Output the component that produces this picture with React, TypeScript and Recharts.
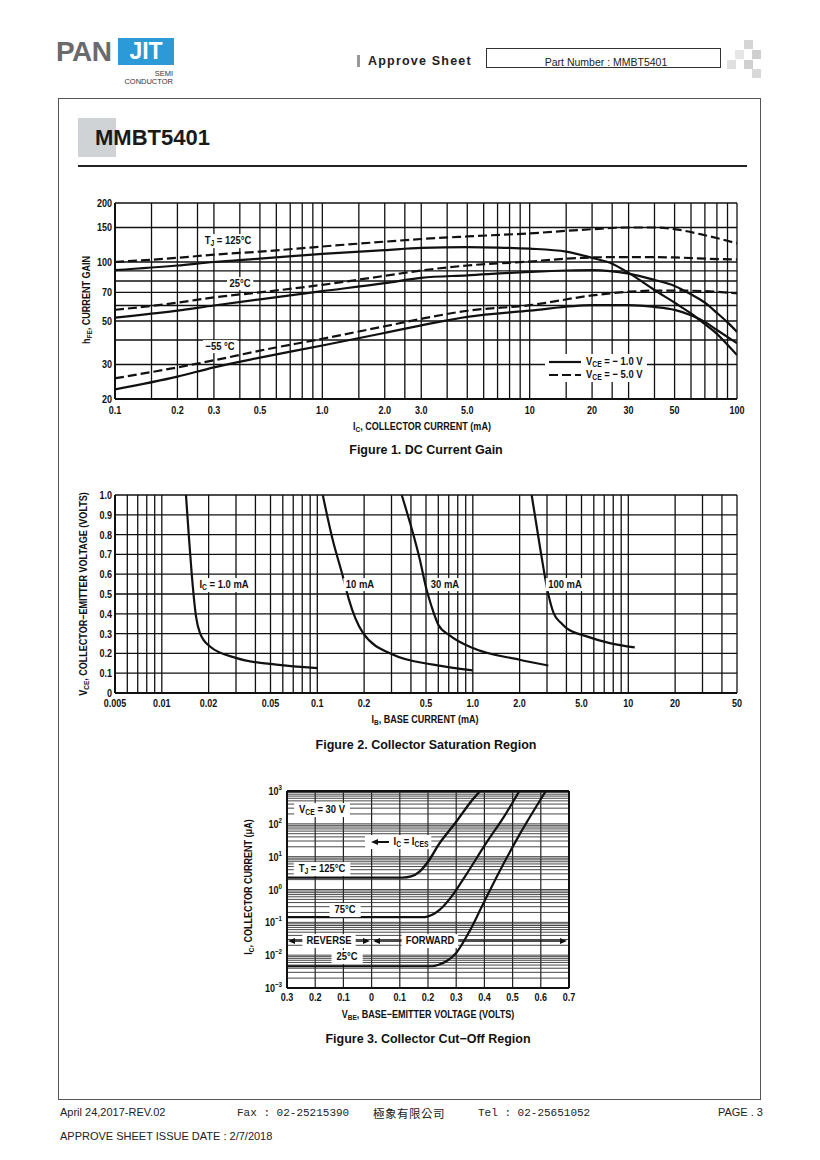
import React from 'react';
import { LineChart, Line, XAxis, YAxis, ReferenceLine } from 'recharts';

const SANS = "'Liberation Sans', Arial, Helvetica, sans-serif";
const INK = '#111';
const SX = 0.82; // horizontal compression to imitate a condensed bold face

// ================= Figure 1: DC Current Gain =================
const fig1XTicks = [0.1, 0.2, 0.3, 0.5, 1, 2, 3, 5, 10, 20, 30, 50, 100];
const fig1XTickLabels = ['0.1', '0.2', '0.3', '0.5', '1.0', '2.0', '3.0', '5.0', '10', '20', '30', '50', '100'];
const fig1YTicks = [20, 30, 50, 70, 100, 150, 200];
const fig1YTickLabels = ['20', '30', '50', '70', '100', '150', '200'];
const fig1XGrid = [0.1, 0.15, 0.2, 0.25, 0.3, 0.4, 0.5, 0.6, 0.7, 0.8, 0.9, 1, 1.5, 2, 2.5, 3, 4, 5, 6, 7, 8, 9, 10, 15, 20, 25, 30, 40, 50, 60, 70, 80, 90, 100];
const fig1YGrid = [20, 30, 40, 50, 60, 70, 80, 90, 100, 150, 200];

// [IC (mA), hFE]
const hfe125Vce1 = [[0.1, 91], [0.2, 96], [0.3, 100], [0.5, 104], [1, 110], [2, 115], [3, 118], [5, 119], [7, 118.5], [10, 117], [15, 113], [20, 105], [25, 98], [30, 88], [40, 72], [50, 62], [60, 54.6], [70, 48.2], [80, 43], [90, 37.8], [100, 33.5]];
const hfe125Vce5 = [[0.1, 100], [0.2, 105], [0.3, 109], [0.5, 113], [1, 120], [2, 127], [3, 131], [5, 135], [10, 140], [20, 147], [30, 150], [40, 150], [50, 147], [70, 137], [100, 124.5]];
const hfe25Vce1 = [[0.1, 52], [0.2, 56.5], [0.3, 60], [0.5, 64.5], [1, 71], [2, 78], [3, 83], [5, 85.5], [10, 89], [15, 90.5], [20, 91], [30, 87.3], [40, 81], [50, 75.5], [60, 68.4], [70, 62], [80, 55], [90, 49.2], [100, 44]];
const hfe25Vce5 = [[0.1, 57], [0.2, 62], [0.3, 66], [0.5, 70], [1, 76.5], [2, 85], [3, 90.5], [5, 96], [10, 100.5], [15, 104], [20, 105.5], [30, 106], [50, 105.5], [70, 104], [100, 103]];
const hfeM55Vce1 = [[0.1, 22.4], [0.2, 26], [0.3, 29], [0.5, 32.5], [1, 37.5], [2, 43.5], [3, 47.5], [5, 52.5], [10, 56.5], [20, 60.2], [30, 60.3], [40, 59], [50, 57], [60, 53.5], [70, 49.5], [80, 45], [100, 38.5]];
const hfeM55Vce5 = [[0.1, 25.5], [0.2, 29], [0.3, 31.5], [0.5, 35.3], [1, 40.6], [2, 47], [3, 51.3], [5, 56.4], [10, 60.2], [20, 67.5], [30, 70.5], [40, 71.5], [50, 71.5], [70, 71], [100, 69.2]];

// ================= Figure 2: Collector Saturation Region =================
const fig2XTicks = [0.005, 0.01, 0.02, 0.05, 0.1, 0.2, 0.5, 1, 2, 5, 10, 20, 50];
const fig2XTickLabels = ['0.005', '0.01', '0.02', '0.05', '0.1', '0.2', '0.5', '1.0', '2.0', '5.0', '10', '20', '50'];
const fig2YTicks = [0, 0.1, 0.2, 0.3, 0.4, 0.5, 0.6, 0.7, 0.8, 0.9, 1.0];
const fig2YTickLabels = ['0', '0.1', '0.2', '0.3', '0.4', '0.5', '0.6', '0.7', '0.8', '0.9', '1.0'];
const fig2XGrid = [0.005, 0.006, 0.007, 0.008, 0.009, 0.01, 0.02, 0.03, 0.04, 0.05, 0.06, 0.07, 0.08, 0.09, 0.1, 0.2, 0.3, 0.4, 0.5, 0.6, 0.7, 0.8, 0.9, 1, 2, 3, 4, 5, 6, 7, 8, 9, 10, 20, 30, 40, 50];

// [IB (mA), VCE (V)]
const vceIc1 = [[0.0143, 1.0], [0.0149, 0.8], [0.01556, 0.605], [0.0166, 0.386], [0.0176, 0.3025], [0.0204, 0.235], [0.0303, 0.176], [0.0545, 0.143], [0.1, 0.126]];
const vceIc10 = [[0.1084, 1.0], [0.125, 0.78], [0.147, 0.58], [0.1587, 0.479], [0.197, 0.3025], [0.308, 0.193], [0.557, 0.143], [1.0, 0.114]];
const vceIc30 = [[0.349, 1.0], [0.457, 0.672], [0.505, 0.52], [0.543, 0.437], [0.6, 0.345], [0.713, 0.29], [1.0, 0.227], [2.0, 0.168], [3.06, 0.139]];
const vceIc100 = [[2.39, 1.0], [2.7, 0.74], [3.05, 0.504], [3.31, 0.403], [3.7, 0.353], [3.97, 0.33], [5.4, 0.286], [7.6, 0.252], [11.0, 0.23]];

// ================= Figure 3: Collector Cut-Off Region =================
const fig3XTicks = [-0.3, -0.2, -0.1, 0, 0.1, 0.2, 0.3, 0.4, 0.5, 0.6, 0.7];
const fig3XTickLabels = ['0.3', '0.2', '0.1', '0', '0.1', '0.2', '0.3', '0.4', '0.5', '0.6', '0.7'];
const fig3YTicks = [0.001, 0.01, 0.1, 1, 10, 100, 1000];
const fig3YTickExps = ['\u22123', '\u22122', '\u22121', '0', '1', '2', '3'];
const fig3YDecades = [0.001, 0.01, 0.1, 1, 10, 100];
const fig3Mantissas = [1, 2, 3, 4, 5, 6, 7, 8, 9];
const fig3YGrid = [...fig3YDecades.flatMap((d) => fig3Mantissas.map((m) => d * m)), 1000];

// [VBE (V, reverse negative), IC (uA)]
const icTj125 = [[-0.3, 2.3], [0.11, 2.3], [0.14, 2.5], [0.17, 3.5], [0.2, 7], [0.24, 25], [0.3, 115], [0.35, 450], [0.385, 1000]];
const icTj75 = [[-0.3, 0.145], [0.19, 0.145], [0.215, 0.17], [0.241, 0.24], [0.288, 0.69], [0.335, 2.8], [0.406, 25.7], [0.477, 209], [0.524, 1000]];
const icTj25 = [[-0.3, 0.0046], [0.215, 0.0046], [0.24, 0.0052], [0.265, 0.0065], [0.3, 0.0117], [0.347, 0.053], [0.394, 0.343], [0.453, 3.5], [0.524, 46], [0.618, 1000]];

const pts = (arr: number[][]) => arr.map(([x, y]) => ({ x, y }));

const lineBase = { type: 'monotone' as const, dataKey: 'y', stroke: INK, strokeWidth: 2.2, dot: false, activeDot: false, isAnimationActive: false };
const dashed = '9 4';

const makeTick = (ticks: number[], labels: string[], axis: 'x' | 'y') => (props: any) => {
  const { x, y, payload } = props;
  const label = labels[ticks.indexOf(payload.value)];
  return (
    <g transform={`translate(${x},${y}) scale(${SX},1)`}>
      <text x={0} y={0} dy={axis === 'x' ? '0.71em' : '0.355em'} textAnchor={axis === 'x' ? 'middle' : 'end'}
        fill={INK} fontSize={11} fontWeight={700} fontFamily={SANS}>{label}</text>
    </g>
  );
};

const Fig3YTick = (props: any) => {
  const { x, y, payload } = props;
  const e = fig3YTickExps[fig3YTicks.indexOf(payload.value)];
  return (
    <g transform={`translate(${x},${y}) scale(${SX},1)`}>
      <text x={0} y={0} dy={4} textAnchor="end" fill={INK} fontSize={11} fontWeight={700} fontFamily={SANS}>
        <tspan>10</tspan>
        <tspan dy={-5} fontSize={7.5}>{e}</tspan>
      </text>
    </g>
  );
};

const Sub = ({ children }: { children: React.ReactNode }) => (
  <span style={{ fontSize: '0.72em', position: 'relative', top: '0.28em' }}>{children}</span>
);

type TP = {
  x: number; y: number; children: React.ReactNode; size?: number; weight?: number; family?: string;
  bg?: string; rot?: number; anchor?: 'left' | 'center' | 'right'; color?: string; ls?: number; pad?: string; sx?: number;
};
const T = ({ x, y, children, size = 11, weight = 700, family = SANS, bg, rot, anchor = 'center', color = INK, ls, pad = '0 3px', sx = SX }: TP) => {
  const tx = anchor === 'center' ? '-50%' : anchor === 'right' ? '-100%' : '0';
  const ox = anchor === 'center' ? '50%' : anchor === 'right' ? '100%' : '0%';
  return (
    <div
      style={{
        position: 'absolute', left: x, top: y,
        transform: `translate(${tx}, -50%)${rot ? ` rotate(${rot}deg)` : ''}${sx !== 1 ? ` scaleX(${sx})` : ''}`,
        transformOrigin: `${ox} 50%`,
        fontSize: size, fontWeight: weight, fontFamily: family, background: bg, color,
        whiteSpace: 'nowrap', lineHeight: 1.2, padding: bg ? pad : 0, letterSpacing: ls, zIndex: 2,
      }}
    >
      {children}
    </div>
  );
};

function Figure1() {
  return (
    <div style={{ position: 'absolute', left: 60, top: 190 }}>
      <LineChart width={700} height={240} margin={{ top: 13, right: 23, bottom: 6, left: 0 }}>
        {fig1XGrid.map((v) => (
          <ReferenceLine key={`gx${v}`} x={v} stroke={INK} strokeWidth={1.3} ifOverflow="visible" />
        ))}
        {fig1YGrid.map((v) => (
          <ReferenceLine key={`gy${v}`} y={v} stroke={INK} strokeWidth={1.3} ifOverflow="visible" />
        ))}
        <XAxis type="number" dataKey="x" scale="log" domain={[0.1, 100]} ticks={fig1XTicks} interval={0}
          tick={makeTick(fig1XTicks, fig1XTickLabels, 'x')}
          tickLine={false} tickSize={0} tickMargin={7} height={25} axisLine={{ stroke: INK, strokeWidth: 2 }} allowDataOverflow />
        <YAxis type="number" scale="log" domain={[20, 200]} ticks={fig1YTicks} interval={0}
          tick={makeTick(fig1YTicks, fig1YTickLabels, 'y')}
          tickLine={false} tickSize={0} tickMargin={3} width={55} axisLine={{ stroke: INK, strokeWidth: 2 }} allowDataOverflow />
        <Line data={pts(hfe125Vce1)} {...lineBase} />
        <Line data={pts(hfe125Vce5)} {...lineBase} strokeDasharray={dashed} />
        <Line data={pts(hfe25Vce1)} {...lineBase} />
        <Line data={pts(hfe25Vce5)} {...lineBase} strokeDasharray={dashed} />
        <Line data={pts(hfeM55Vce1)} {...lineBase} />
        <Line data={pts(hfeM55Vce5)} {...lineBase} strokeDasharray={dashed} />
      </LineChart>
    </div>
  );
}

function Figure2() {
  return (
    <div style={{ position: 'absolute', left: 60, top: 485 }}>
      <LineChart width={700} height={230} margin={{ top: 10, right: 23, bottom: 2, left: 0 }}>
        {fig2XGrid.map((v) => (
          <ReferenceLine key={`gx${v}`} x={v} stroke={INK} strokeWidth={1.3} ifOverflow="visible" />
        ))}
        {fig2YTicks.map((v) => (
          <ReferenceLine key={`gy${v}`} y={v} stroke={INK} strokeWidth={1.3} ifOverflow="visible" />
        ))}
        <XAxis type="number" dataKey="x" scale="log" domain={[0.005, 50]} ticks={fig2XTicks} interval={0}
          tick={makeTick(fig2XTicks, fig2XTickLabels, 'x')}
          tickLine={false} tickSize={0} tickMargin={6} height={20} axisLine={{ stroke: INK, strokeWidth: 2 }} allowDataOverflow />
        <YAxis type="number" domain={[0, 1]} ticks={fig2YTicks} interval={0}
          tick={makeTick(fig2YTicks, fig2YTickLabels, 'y')}
          tickLine={false} tickSize={0} tickMargin={3} width={55} axisLine={{ stroke: INK, strokeWidth: 2 }} allowDataOverflow />
        <Line data={pts(vceIc1)} {...lineBase} />
        <Line data={pts(vceIc10)} {...lineBase} />
        <Line data={pts(vceIc30)} {...lineBase} />
        <Line data={pts(vceIc100)} {...lineBase} />
      </LineChart>
    </div>
  );
}

function Figure3() {
  return (
    <div style={{ position: 'absolute', left: 200, top: 780 }}>
      <LineChart width={380} height={230} margin={{ top: 11, right: 11, bottom: 2, left: 0 }}>
        {fig3XTicks.map((v) => (
          <ReferenceLine key={`gx${v}`} x={v} stroke="#222" strokeWidth={1.2} ifOverflow="visible" />
        ))}
        {fig3YGrid.map((v) => (
          <ReferenceLine key={`gy${v}`} y={v} stroke="#333" strokeWidth={0.9} ifOverflow="visible" />
        ))}
        <XAxis type="number" dataKey="x" domain={[-0.3, 0.7]} ticks={fig3XTicks} interval={0}
          tick={makeTick(fig3XTicks, fig3XTickLabels, 'x')}
          tickLine={false} tickSize={0} tickMargin={5} height={20} axisLine={{ stroke: INK, strokeWidth: 2 }} allowDataOverflow />
        <YAxis type="number" scale="log" domain={[0.001, 1000]} ticks={fig3YTicks} interval={0}
          tick={<Fig3YTick />} tickLine={false} tickSize={0} tickMargin={5} width={87}
          axisLine={{ stroke: INK, strokeWidth: 2 }} allowDataOverflow />
        <ReferenceLine x={0.7} stroke={INK} strokeWidth={2} ifOverflow="visible" />
        <ReferenceLine y={1000} stroke={INK} strokeWidth={2} ifOverflow="visible" />
        <Line data={pts(icTj125)} {...lineBase} strokeWidth={2.4} />
        <Line data={pts(icTj75)} {...lineBase} />
        <Line data={pts(icTj25)} {...lineBase} />
      </LineChart>
    </div>
  );
}

const Arrow = ({ tip, dir, y }: { tip: number; dir: 1 | -1; y: number }) => (
  <polygon points={`${tip},${y} ${tip - dir * 7},${y - 3} ${tip - dir * 7},${y + 3}`} fill={INK} />
);

export default function App() {
  const sq = (l: number, t: number, c: string) => (
    <div style={{ position: 'absolute', left: l, top: t, width: 9, height: 9, background: c }} />
  );
  return (
    <div style={{ position: 'absolute', left: 0, top: 0, width: 820, height: 1160, background: '#fff', overflow: 'hidden', fontFamily: SANS }}>
      {/* ===== Header ===== */}
      <T x={56} y={52} anchor="left" size={28} weight={700} color="#6a6a6a" ls={-0.5} sx={1}>PAN</T>
      <div style={{ position: 'absolute', left: 118, top: 38, width: 56, height: 27, background: '#2b9ad6' }} />
      <T x={146} y={52} size={23} weight={700} color="#fff" sx={1}>JIT</T>
      <T x={173} y={73} anchor="right" size={7.5} weight={400} color="#333" sx={1}>SEMI</T>
      <T x={173} y={81} anchor="right" size={7.5} weight={400} color="#333" sx={1}>CONDUCTOR</T>

      <div style={{ position: 'absolute', left: 357, top: 55, width: 3, height: 12, background: '#999' }} />
      <T x={368} y={61} anchor="left" size={12.5} weight={700} color="#222" ls={1.2} sx={1}>Approve Sheet</T>
      <div style={{ position: 'absolute', left: 486, top: 48, width: 235, height: 20, border: '1px solid #333', boxSizing: 'border-box' }} />
      <T x={606} y={62} size={10.5} weight={400} color="#222" sx={1}>Part Number : MMBT5401</T>
      {sq(744, 40, '#d5d5d5')}
      {sq(735, 50, '#e6e6e6')}
      {sq(752, 50, '#cfcfcf')}
      {sq(727, 60, '#e0e0e0')}
      {sq(744, 60, '#d0d0d0')}
      {sq(752, 69, '#d8d8d8')}

      {/* ===== Main frame ===== */}
      <div style={{ position: 'absolute', left: 58, top: 98, width: 703, height: 1002, border: '1.5px solid #555', boxSizing: 'border-box' }} />
      <div style={{ position: 'absolute', left: 78, top: 118, width: 38, height: 39, background: '#d0d3d6' }} />
      <T x={95} y={138} anchor="left" size={22} weight={700} color="#1a1a1a" sx={1}>MMBT5401</T>
      <div style={{ position: 'absolute', left: 78, top: 165, width: 669, height: 1.5, background: '#222' }} />

      {/* ===== Figure 1 ===== */}
      <Figure1 />
      <T x={87} y={300} rot={-90}>h<Sub>FE</Sub>, CURRENT GAIN</T>
      <T x={422} y={427}>I<Sub>C</Sub>, COLLECTOR CURRENT (mA)</T>
      <T x={228} y={241} bg="#fff" size={11.5}>T<Sub>J</Sub> = 125°C</T>
      <T x={240} y={283.5} bg="#fff" size={11.5}>25°C</T>
      <T x={220} y={346.5} bg="#fff" size={11.5}>−55 °C</T>
      <div style={{ position: 'absolute', left: 545, top: 354, width: 102, height: 28, background: '#fff', zIndex: 2 }}>
        <svg width={102} height={28} style={{ position: 'absolute', left: 0, top: 0 }}>
          <line x1={4} y1={8} x2={36} y2={8} stroke={INK} strokeWidth={2.2} />
          <line x1={4} y1={21} x2={36} y2={21} stroke={INK} strokeWidth={2.2} strokeDasharray={dashed} />
        </svg>
      </div>
      <T x={586} y={362} anchor="left" size={11.5}>V<Sub>CE</Sub> = − 1.0 V</T>
      <T x={586} y={375} anchor="left" size={11.5}>V<Sub>CE</Sub> = − 5.0 V</T>
      <T x={426} y={450} size={12.5} sx={1}>Figure 1. DC Current Gain</T>

      {/* ===== Figure 2 ===== */}
      <Figure2 />
      <T x={84} y={594} rot={-90}>V<Sub>CE</Sub>, COLLECTOR−EMITTER VOLTAGE (VOLTS)</T>
      <T x={425} y={720}>I<Sub>B</Sub>, BASE CURRENT (mA)</T>
      <T x={224} y={585} bg="#fff" size={11.5}>I<Sub>C</Sub> = 1.0 mA</T>
      <T x={360} y={584.5} bg="#fff" size={11.5}>10 mA</T>
      <T x={444.5} y={584.5} bg="#fff" size={11.5}>30 mA</T>
      <T x={565} y={584.5} bg="#fff" size={11.5}>100 mA</T>
      <T x={426} y={745} size={12.5} sx={1}>Figure 2. Collector Saturation Region</T>

      {/* ===== Figure 3 ===== */}
      <Figure3 />
      <T x={249} y={887} rot={-90}>I<Sub>C</Sub>, COLLECTOR CURRENT (μA)</T>
      <T x={428} y={1015}>V<Sub>BE</Sub>, BASE−EMITTER VOLTAGE (VOLTS)</T>
      <T x={322} y={810} bg="#fff" size={11.5} pad="0 6px">V<Sub>CE</Sub> = 30 V</T>
      <svg width={30} height={14} style={{ position: 'absolute', left: 365, top: 835, zIndex: 2 }}>
        <rect x={0} y={0} width={30} height={14} fill="#fff" />
        <line x1={9} y1={7} x2={24} y2={7} stroke={INK} strokeWidth={2} />
        <Arrow tip={6} dir={-1} y={7} />
      </svg>
      <T x={411} y={842} bg="#fff" size={11.5}>I<Sub>C</Sub> = I<Sub>CES</Sub></T>
      <T x={322} y={869} bg="#fff" size={11.5} pad="0 6px">T<Sub>J</Sub> = 125°C</T>
      <T x={345} y={910} bg="#fff" size={11.5} pad="0 6px">75°C</T>
      <svg width={295} height={14} style={{ position: 'absolute', left: 280, top: 934, zIndex: 2 }}>
        <line x1={12} y1={7} x2={86} y2={7} stroke={INK} strokeWidth={1.6} />
        <line x1={97} y1={7} x2={283} y2={7} stroke={INK} strokeWidth={1.6} />
        <Arrow tip={8} dir={-1} y={7} />
        <Arrow tip={90} dir={1} y={7} />
        <Arrow tip={93} dir={-1} y={7} />
        <Arrow tip={287} dir={1} y={7} />
      </svg>
      <T x={329} y={941} bg="#fff" size={11.5} pad="0 5px">REVERSE</T>
      <T x={430} y={941} bg="#fff" size={11.5} pad="0 5px">FORWARD</T>
      <T x={347} y={957} bg="#fff" size={11.5} pad="0 6px">25°C</T>
      <T x={428} y={1039} size={12.5} sx={1}>Figure 3. Collector Cut−Off Region</T>

      {/* ===== Footer ===== */}
      <T x={60} y={1113} anchor="left" size={11} weight={400} color="#222" sx={1}>April 24,2017-REV.02</T>
      <T x={237} y={1114} anchor="left" size={11} weight={400} family="'Liberation Mono', monospace" color="#222" sx={1}>Fax : 02-25215390</T>
      <T x={373} y={1114} anchor="left" size={11.5} weight={400} family="'Noto Sans CJK TC', sans-serif" color="#222" ls={0.5} sx={1}>極象有限公司</T>
      <T x={478} y={1114} anchor="left" size={11} weight={400} family="'Liberation Mono', monospace" color="#222" sx={1}>Tel : 02-25651052</T>
      <T x={763} y={1113} anchor="right" size={11} weight={400} color="#222" sx={1}>PAGE . 3</T>
      <T x={60} y={1137} anchor="left" size={11} weight={400} color="#222" sx={1}>APPROVE SHEET ISSUE DATE : 2/7/2018</T>
    </div>
  );
}
